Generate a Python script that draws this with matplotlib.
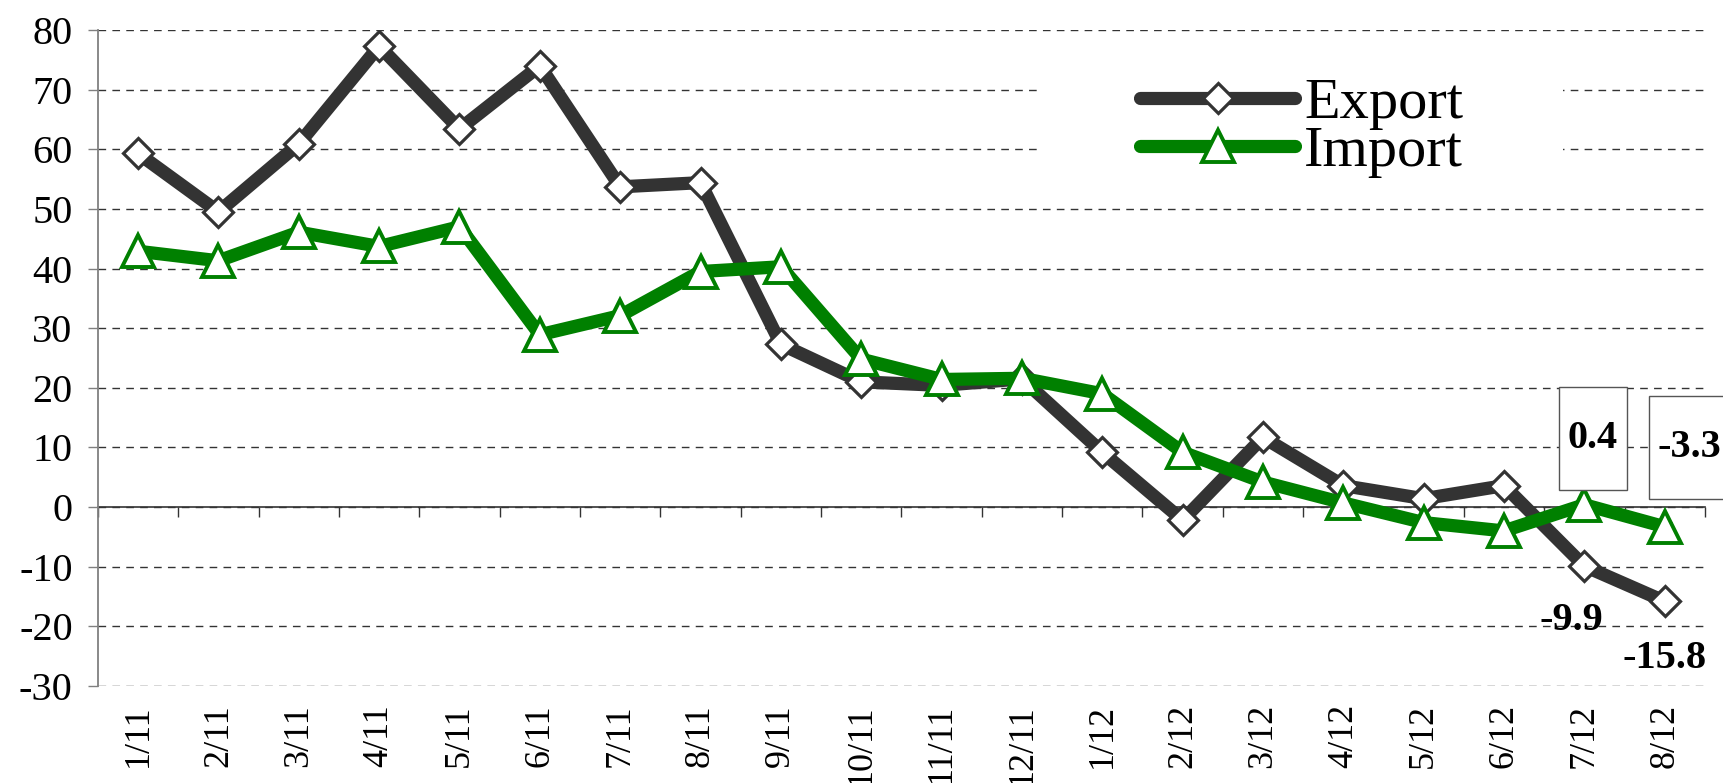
import numpy as np
import matplotlib.pyplot as plt
from matplotlib.patches import Rectangle

months = ['1/11', '2/11', '3/11', '4/11', '5/11', '6/11', '7/11', '8/11', '9/11', '10/11',
          '11/11', '12/11', '1/12', '2/12', '3/12', '4/12', '5/12', '6/12', '7/12', '8/12']
export = [59.3, 49.5, 60.9, 77.3, 63.4, 74.0, 53.7, 54.4, 27.3, 21.0,
          20.4, 21.5, 9.2, -2.2, 11.7, 3.6, 1.4, 3.6, -9.9, -15.8]
imports = [42.9, 41.3, 46.1, 43.7, 47.0, 28.9, 32.1, 39.5, 40.3, 24.8,
           21.4, 21.6, 19.0, 9.2, 4.2, 0.7, -2.6, -4.0, 0.4, -3.3]
yticks = list(range(-30, 81, 10))

plt.rcParams['font.family'] = ['Liberation Serif', 'DejaVu Serif']
plt.rcParams['axes.unicode_minus'] = False

fig = plt.figure(figsize=(17.24, 7.83), dpi=100)
ax = fig.add_axes([0.0568, 0.1239, 0.9321, 0.8378])
x = np.arange(len(months))

ax.plot(x, export, color='#333333', lw=9.5, marker='D', ms=15.5, mfc='white',
        mec='#333333', mew=2.3, label='Export', zorder=3)
ax.plot(x, imports, color='#008000', lw=9.5, marker='^', ms=23, mfc='white',
        mec='#008000', mew=2.8, label='Import', zorder=4)

ax.set_xlim(-0.5, len(months) - 0.5)
ax.set_ylim(-30, 80)
ax.set_yticks(yticks)
ax.set_xticks(x, months, rotation=90, va='top', ha='center')

ax.set_axisbelow(True)
ax.yaxis.grid(True, color='#333333', lw=1, linestyle=(0, (5.5, 4.5)))
ax.tick_params(axis='x', length=0, pad=13, labelsize=26)
ax.tick_params(axis='y', length=7.2, width=1, color='#808080', pad=11, labelsize=29)
for s in ['top', 'right', 'bottom']:
    ax.spines[s].set_visible(False)
ax.spines['left'].set_color('#808080')
ax.spines['left'].set_linewidth(1.3)

# zero line with category separators
sec = ax.secondary_xaxis(30 / 110)
sec.set_xticks(np.arange(-0.5, len(months), 1))
sec.tick_params(labelbottom=False, length=7.2, width=1, color='#333333', direction='out')
sec.spines['bottom'].set_color('#333333')
sec.spines['bottom'].set_linewidth(1.2)

# white block behind legend
ax.add_patch(Rectangle((0.5874, 0.7637), 0.3242, 0.198, transform=ax.transAxes,
                       facecolor='white', edgecolor='none', zorder=1))
leg = ax.legend(loc='center left', bbox_to_anchor=(0.6613, 0.8366),
                bbox_transform=fig.transFigure, frameon=False, fontsize=42,
                handlelength=2.66, handletextpad=0.155, labelspacing=-0.083,
                borderpad=0, borderaxespad=0)
for h in leg.legend_handles:
    h.set_solid_capstyle('round')

box = dict(boxstyle='square,pad=0.22', facecolor='white', edgecolor='#555555', lw=1)
ax.annotate('\n%.1f\n' % imports[18], (18, imports[18]), xytext=(6, 47.5),
            textcoords='offset points', ha='center', va='center', fontsize=29,
            fontweight='bold', linespacing=0.55, bbox=box, zorder=5)
ax.annotate('\n%.1f\n' % imports[19], (19, imports[19]), xytext=(18, 57),
            textcoords='offset points', ha='center', va='center', fontsize=29,
            fontweight='bold', linespacing=0.55, bbox=box, zorder=5,
            annotation_clip=False)
ax.annotate('%.1f' % export[18], (18, export[18]), xytext=(-9, -39),
            textcoords='offset points', ha='center', va='center', fontsize=29,
            fontweight='bold', zorder=5)
ax.annotate('%.1f' % export[19], (19, export[19]), xytext=(0, -41),
            textcoords='offset points', ha='center', va='center', fontsize=29,
            fontweight='bold', zorder=5, annotation_clip=False)

fig.savefig('out.png', dpi=100)
